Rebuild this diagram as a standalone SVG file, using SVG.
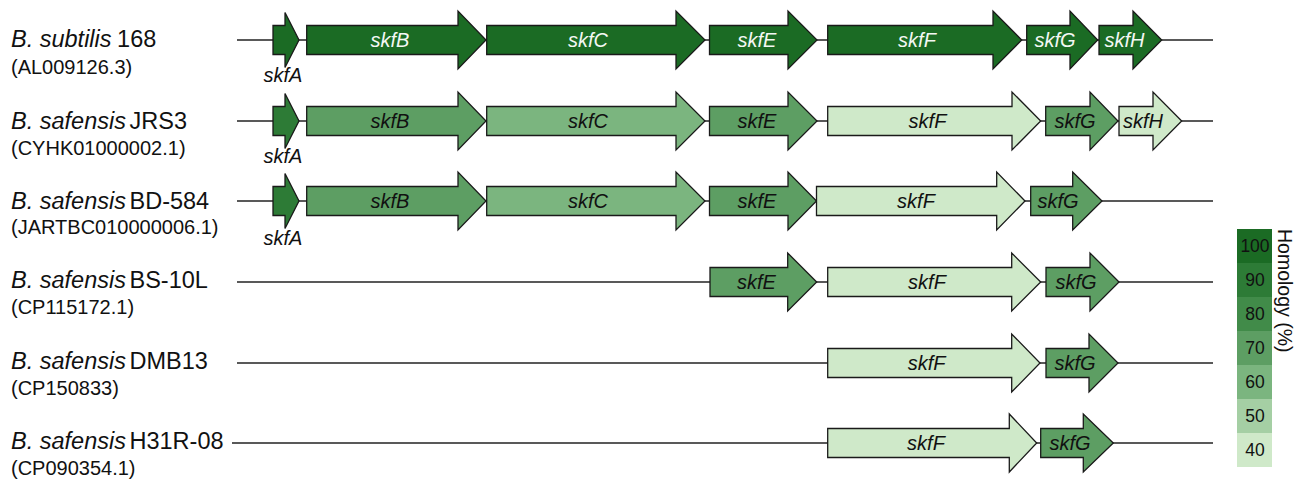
<svg xmlns="http://www.w3.org/2000/svg" width="1300" height="480" viewBox="0 0 1300 480">
<style>
.bg{fill:#fff}
.ln{stroke:#222;stroke-width:1.5;fill:none}
.g{stroke:#1a1a1a;stroke-width:1.3;stroke-linejoin:miter}
.c100{fill:#1b6b24}.c90{fill:#2d7b36}.c80{fill:#418b49}.c70{fill:#5d9e63}.c60{fill:#7bb57f}.c50{fill:#a5cfa4}.c40{fill:#cfe9c9}
.gt{font-family:"Liberation Sans",Arial,sans-serif;font-style:italic;font-size:20px;text-anchor:middle;fill:#111}
.wt{fill:#f4f8f4}
.sp{font-family:"Liberation Sans",Arial,sans-serif;font-size:23.5px;fill:#111}
.acc{font-family:"Liberation Sans",Arial,sans-serif;font-size:20px;fill:#111}
.it{font-style:italic}
.lg{font-family:"Liberation Sans",Arial,sans-serif;font-size:17.5px;text-anchor:middle;fill:#111}
.lt{font-family:"Liberation Sans",Arial,sans-serif;font-size:19.5px;fill:#111}
</style>
<rect class="bg" x="0" y="0" width="1300" height="480"/>

<g id="connectors">
<line class="ln" x1="237" y1="40" x2="1213" y2="40"/>
<line class="ln" x1="237" y1="121" x2="1213" y2="121"/>
<line class="ln" x1="237" y1="201" x2="1213" y2="201"/>
<line class="ln" x1="237" y1="282" x2="1213" y2="282"/>
<line class="ln" x1="237" y1="363" x2="1213" y2="363"/>
<line class="ln" x1="232" y1="443" x2="1213" y2="443"/>
</g>

<!-- Labels -->
<g id="label-r1"><text class="sp" x="11" y="47"><tspan class="it">B. subtilis</tspan> <tspan dx="-1">168</tspan></text><text class="acc" x="11" y="74">(AL009126.3)</text></g>
<g id="label-r2"><text class="sp" x="11" y="129"><tspan class="it">B. safensis</tspan> <tspan dx="-3">JRS3</tspan></text><text class="acc" x="11" y="155">(CYHK01000002.1)</text></g>
<g id="label-r3"><text class="sp" x="11" y="209"><tspan class="it">B. safensis</tspan> <tspan dx="-3">BD-584</tspan></text><text class="acc" x="11" y="234">(JARTBC010000006.1)</text></g>
<g id="label-r4"><text class="sp" x="11" y="288"><tspan class="it">B. safensis</tspan> <tspan dx="-3">BS-10L</tspan></text><text class="acc" x="11" y="314">(CP115172.1)</text></g>
<g id="label-r5"><text class="sp" x="11" y="369"><tspan class="it">B. safensis</tspan> <tspan dx="-3">DMB13</tspan></text><text class="acc" x="11" y="395">(CP150833)</text></g>
<g id="label-r6"><text class="sp" x="11" y="449"><tspan class="it">B. safensis</tspan> <tspan dx="-3">H31R-08</tspan></text><text class="acc" x="11" y="475">(CP090354.1)</text></g>

<!-- Row 1 -->
<g id="r1-skfA"><path class="g c100" d="M273,25.5H285V12.5L299,40L285,67.5V54.5H273Z"/><text class="gt" x="283" y="82">skfA</text></g>
<g id="r1-skfB"><path class="g c100" d="M306.7,25.5H458V11L486,40L458,69V54.5H306.7Z"/><text class="gt wt" x="390" y="47">skfB</text></g>
<g id="r1-skfC"><path class="g c100" d="M486.7,25.5H676V11L705,40L676,69V54.5H486.7Z"/><text class="gt wt" x="588" y="47">skfC</text></g>
<g id="r1-skfE"><path class="g c100" d="M709.5,25.5H788V11L817,40L788,69V54.5H709.5Z"/><text class="gt wt" x="757" y="47">skfE</text></g>
<g id="r1-skfF"><path class="g c100" d="M827.7,25.5H993V11L1021.7,40L993,69V54.5H827.7Z"/><text class="gt wt" x="917" y="47">skfF</text></g>
<g id="r1-skfG"><path class="g c100" d="M1026.7,25.5H1070V11L1097.7,40L1070,69V54.5H1026.7Z"/><text class="gt wt" x="1055" y="47">skfG</text></g>
<g id="r1-skfH"><path class="g c100" d="M1099,25.5H1133V11L1161.7,40L1133,69V54.5H1099Z"/><text class="gt wt" x="1124.5" y="47">skfH</text></g>

<!-- Row 2 -->
<g id="r2-skfA"><path class="g c90" d="M273,106.5H285V93.5L299,121L285,148.5V135.5H273Z"/><text class="gt" x="283" y="163">skfA</text></g>
<g id="r2-skfB"><path class="g c70" d="M306.7,106.5H458V92L486,121L458,150V135.5H306.7Z"/><text class="gt" x="390" y="128">skfB</text></g>
<g id="r2-skfC"><path class="g c60" d="M486.7,106.5H676V92L705,121L676,150V135.5H486.7Z"/><text class="gt" x="588" y="128">skfC</text></g>
<g id="r2-skfE"><path class="g c70" d="M709.5,106.5H788V92L817,121L788,150V135.5H709.5Z"/><text class="gt" x="757" y="128">skfE</text></g>
<g id="r2-skfF"><path class="g c40" d="M827.7,106.5H1012V92L1040.7,121L1012,150V135.5H827.7Z"/><text class="gt" x="927.5" y="128">skfF</text></g>
<g id="r2-skfG"><path class="g c70" d="M1045.7,106.5H1090V92L1118,121L1090,150V135.5H1045.7Z"/><text class="gt" x="1075" y="128">skfG</text></g>
<g id="r2-skfH"><path class="g c40" d="M1119,106.5H1153V92L1181.7,121L1153,150V135.5H1119Z"/><text class="gt" x="1143" y="128">skfH</text></g>

<!-- Row 3 -->
<g id="r3-skfA"><path class="g c90" d="M273,186.5H285V173.5L299,201L285,228.5V215.5H273Z"/><text class="gt" x="283" y="245">skfA</text></g>
<g id="r3-skfB"><path class="g c70" d="M306.7,186.5H458V172L486,201L458,230V215.5H306.7Z"/><text class="gt" x="390" y="208">skfB</text></g>
<g id="r3-skfC"><path class="g c60" d="M486.7,186.5H676V172L705,201L676,230V215.5H486.7Z"/><text class="gt" x="588" y="208">skfC</text></g>
<g id="r3-skfE"><path class="g c70" d="M709.5,186.5H788V172L816.5,201L788,230V215.5H709.5Z"/><text class="gt" x="757" y="208">skfE</text></g>
<g id="r3-skfF"><path class="g c40" d="M816.5,186.5H996.7V172L1025,201L996.7,230V215.5H816.5Z"/><text class="gt" x="916" y="208">skfF</text></g>
<g id="r3-skfG"><path class="g c70" d="M1030.7,186.5H1072.7V172L1102,201L1072.7,230V215.5H1030.7Z"/><text class="gt" x="1058" y="208">skfG</text></g>

<!-- Row 4 -->
<g id="r4-skfE"><path class="g c70" d="M710,267.5H787.7V253L816.7,282L787.7,311V296.5H710Z"/><text class="gt" x="756.5" y="289">skfE</text></g>
<g id="r4-skfF"><path class="g c40" d="M827.7,267.5H1011.7V253L1040.7,282L1011.7,311V296.5H827.7Z"/><text class="gt" x="927" y="289">skfF</text></g>
<g id="r4-skfG"><path class="g c70" d="M1046,267.5H1090V253L1119,282L1090,311V296.5H1046Z"/><text class="gt" x="1076" y="289">skfG</text></g>

<!-- Row 5 -->
<g id="r5-skfF"><path class="g c40" d="M827.7,348.5H1011.7V334L1040,363L1011.7,392V377.5H827.7Z"/><text class="gt" x="926.7" y="370">skfF</text></g>
<g id="r5-skfG"><path class="g c70" d="M1046,348.5H1089V334L1118,363L1089,392V377.5H1046Z"/><text class="gt" x="1075" y="370">skfG</text></g>

<!-- Row 6 -->
<g id="r6-skfF"><path class="g c40" d="M827.7,428.5H1009.3V414L1036.7,443L1009.3,472V457.5H827.7Z"/><text class="gt" x="926" y="450">skfF</text></g>
<g id="r6-skfG"><path class="g c70" d="M1040.7,428.5H1083.3V414L1113.3,443L1083.3,472V457.5H1040.7Z"/><text class="gt" x="1070" y="450">skfG</text></g>

<!-- Legend -->
<g id="legend">
<rect class="c100" x="1237" y="229" width="35" height="34"/>
<rect class="c90" x="1237" y="263" width="35" height="34"/>
<rect class="c80" x="1237" y="297" width="35" height="34"/>
<rect class="c70" x="1237" y="331" width="35" height="34"/>
<rect class="c60" x="1237" y="365" width="35" height="34"/>
<rect class="c50" x="1237" y="399" width="35" height="34"/>
<rect class="c40" x="1237" y="433" width="35" height="34"/>
<text class="lg" x="1255" y="252">100</text>
<text class="lg" x="1255" y="286">90</text>
<text class="lg" x="1255" y="320">80</text>
<text class="lg" x="1255" y="354">70</text>
<text class="lg" x="1255" y="388">60</text>
<text class="lg" x="1255" y="422">50</text>
<text class="lg" x="1255" y="456">40</text>
<text class="lt" transform="translate(1278,229) rotate(90)" x="0" y="0">Homology (%)</text>
</g>
</svg>
